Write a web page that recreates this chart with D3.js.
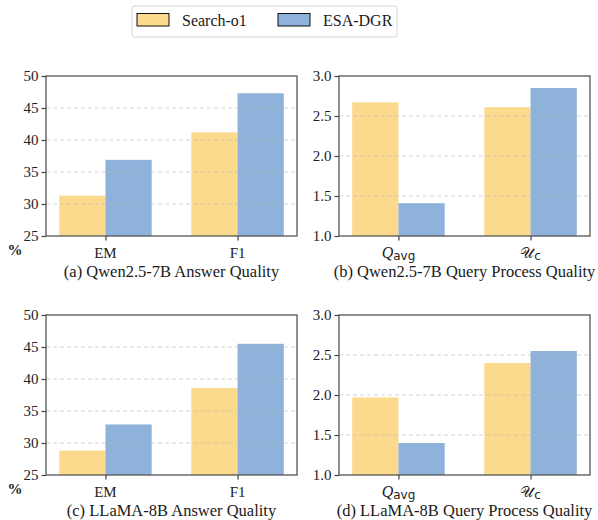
<!DOCTYPE html>
<html>
<head>
<meta charset="utf-8">
<script src="https://cdn.jsdelivr.net/npm/d3@7"></script>
<style>
  body { margin: 0; background: #fff; }
</style>
</head>
<body>
<div id="chart"></div>
<script>
// data
const series = ["Search-o1", "ESA-DGR"];
const colors = ["#FCDA8D", "#8EB2DA"];

const answerCats = ["EM", "F1"];
const queryCats = ["Q", "U"];   // drawn as Q_avg and U_c

const qwenAnswer = [[31.3, 41.2], [36.9, 47.3]];
const qwenQuery = [[2.67, 2.61], [1.41, 2.85]];
const llamaAnswer = [[28.8, 38.6], [32.9, 45.5]];
const llamaQuery = [[1.97, 2.40], [1.40, 2.55]];

const answerTicks = [25, 30, 35, 40, 45, 50];
const queryTicks = [1.0, 1.5, 2.0, 2.5, 3.0];

const captions = [
  "(a) Qwen2.5-7B Answer Quality",
  "(b) Qwen2.5-7B Query Process Quality",
  "(c) LLaMA-8B Answer Quality",
  "(d) LLaMA-8B Query Process Quality"
];

const serif = "'Liberation Serif', 'Times New Roman', serif";
const sans = "'DejaVu Sans', sans-serif";

const W = 598, H = 520;
const plotW = 251, plotH = 160;
const barW = 0.35;

const svg = d3.select("#chart").append("svg").attr("width", W).attr("height", H)
  .style("font-family", serif);

// legend
const leg = svg.append("g");
leg.append("rect")
  .attr("x", 132).attr("y", 6).attr("width", 265).attr("height", 31)
  .attr("rx", 3).attr("fill", "#fff").attr("stroke", "#d6d6d6").attr("stroke-width", 1);
const legX = [137, 278];
series.forEach((s, i) => {
  leg.append("rect")
    .attr("x", legX[i]).attr("y", 13.5).attr("width", 32).attr("height", 12.5)
    .attr("fill", colors[i]).attr("stroke", "#111").attr("stroke-width", 1);
  leg.append("text")
    .attr("x", legX[i] + 45).attr("y", 26)
    .style("font-family", serif).attr("font-size", "16px").attr("fill", "#1a1a1a")
    .text(s);
});

function panel(left, top, cats, values, ticks, caption, isQuery, showPct)
{
  const g = svg.append("g").attr("transform", `translate(${left}, ${top})`);

  const x = d3.scaleLinear().domain([-0.45, 1.45]).range([0, plotW]);
  const y = d3.scaleLinear().domain([ticks[0], ticks[ticks.length - 1]]).range([plotH, 0]);

  // bars
  values.forEach((vals, si) => {
    g.append("g").selectAll("rect")
      .data(vals)
      .join("rect")
        .attr("x", (d, i) => x(i + (si === 0 ? -barW : 0)))
        .attr("width", x(barW) - x(0))
        .attr("y", d => y(d))
        .attr("height", d => plotH - y(d))
        .attr("fill", colors[si]);
  });

  // dashed grid
  g.append("g").selectAll("line")
    .data(ticks.slice(1, -1))
    .join("line")
      .attr("x1", 0).attr("x2", plotW)
      .attr("y1", d => y(d)).attr("y2", d => y(d))
      .attr("stroke", "#b8b8b8").attr("stroke-opacity", 0.6)
      .attr("stroke-dasharray", "4,3").attr("stroke-width", 1);

  // frame
  g.append("rect")
    .attr("x", 0).attr("y", 0).attr("width", plotW).attr("height", plotH)
    .attr("fill", "none").attr("stroke", "#555").attr("stroke-width", 1.3);

  const yAxis = d3.axisLeft(y).tickValues(ticks).tickSize(4.5).tickPadding(3)
    .tickFormat(isQuery ? d3.format(".1f") : d3.format("d"));
  const ya = g.append("g").call(yAxis);
  ya.select(".domain").remove();
  ya.selectAll(".tick line").attr("stroke", "#444").attr("stroke-width", 1.2);
  ya.selectAll("text").style("font-family", serif).attr("font-size", "15px").attr("fill", "#222");

  const xAxis = d3.axisBottom(x).tickValues([0, 1]).tickSize(4.5).tickFormat("");
  const xa = g.append("g").attr("transform", `translate(0, ${plotH})`).call(xAxis);
  xa.select(".domain").remove();
  xa.selectAll(".tick line").attr("stroke", "#444").attr("stroke-width", 1.2);

  // category labels
  cats.forEach((c, i) => {
    if (!isQuery) {
      g.append("text")
        .attr("x", x(i)).attr("y", plotH + 22)
        .attr("text-anchor", "middle").style("font-family", serif)
        .attr("font-size", "15px").attr("fill", "#222")
        .text(c);
    } else {
      const t = g.append("text")
        .attr("x", x(i)).attr("y", plotH + 22)
        .attr("text-anchor", "middle").attr("fill", "#222");
      if (c === "Q") {
        t.append("tspan").attr("font-style", "italic").attr("font-size", "16px")
          .style("font-family", serif).text("Q");
        t.append("tspan").attr("font-size", "12px").attr("dy", 2)
          .style("font-family", sans).text("avg");
      } else {
        t.append("tspan").attr("font-size", "15px")
          .style("font-family", "'DejaVu Serif', serif").text("\u{1D4B0}");
        t.append("tspan").attr("font-size", "12px").attr("dy", 2)
          .style("font-family", sans).text("c");
      }
    }
  });

  if (showPct) {
    g.append("text")
      .attr("x", -31).attr("y", plotH + 19)
      .attr("text-anchor", "middle").style("font-family", serif)
      .attr("font-size", "15px").attr("font-weight", "bold").attr("fill", "#222")
      .text("%");
  }

  g.append("text")
    .attr("x", plotW / 2).attr("y", plotH + 41)
    .attr("text-anchor", "middle").style("font-family", serif)
    .attr("font-size", "16.5px").attr("fill", "#1a1a1a")
    .text(caption);
}

panel(46, 76, answerCats, qwenAnswer, answerTicks, captions[0], false, true);
panel(339, 76, queryCats, qwenQuery, queryTicks, captions[1], true, false);
panel(46, 315, answerCats, llamaAnswer, answerTicks, captions[2], false, true);
panel(339, 315, queryCats, llamaQuery, queryTicks, captions[3], true, false);
</script>
</body>
</html>
